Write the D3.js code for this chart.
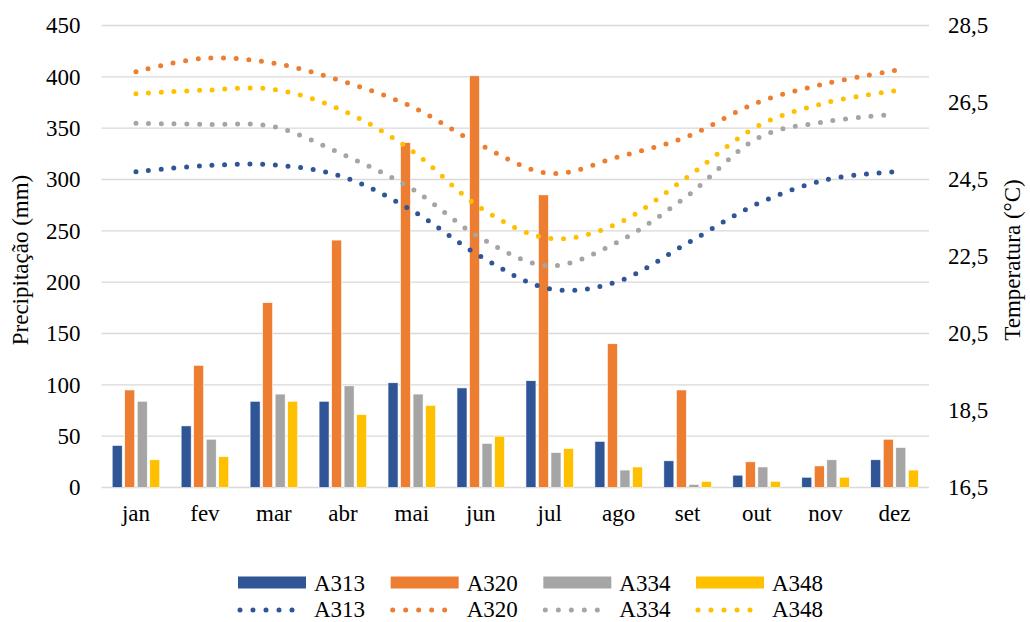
<!DOCTYPE html>
<html>
<head>
<meta charset="utf-8">
<script src="https://cdn.jsdelivr.net/npm/d3@7"></script>
<style>
  html, body { margin: 0; padding: 0; background: #fff; }
  svg { display: block; }
  text { font-family: "Liberation Serif", "Times New Roman", serif; fill: #000; }
</style>
</head>
<body>
<svg id="chart" width="1030" height="622"></svg>
<script>
// ---- data ----
const months = ["jan","fev","mar","abr","mai","jun","jul","ago","set","out","nov","dez"];
const stations = ["A313","A320","A334","A348"];
const colors = ["#2F5597","#ED7D31","#A5A5A5","#FFC000"];

const precipA313 = [41, 60, 84, 84, 102, 97, 104, 45, 26, 12, 10, 27];
const precipA320 = [95, 119, 180, 241, 336, 401, 285, 140, 95, 25, 21, 47];
const precipA334 = [84, 47, 91, 99, 91, 43, 34, 17, 3, 20, 27, 39];
const precipA348 = [27, 30, 84, 71, 80, 50, 38, 20, 6, 6, 10, 17];

const tempA313 = [24.70, 24.86, 24.88, 24.57, 23.70, 22.50, 21.66, 21.86, 22.85, 23.86, 24.49, 24.70];
const tempA320 = [27.30, 27.65, 27.52, 27.05, 26.39, 25.39, 24.66, 25.09, 25.62, 26.49, 26.99, 27.33];
const tempA334 = [25.96, 25.93, 25.87, 25.15, 24.26, 22.98, 22.26, 22.89, 24.08, 25.56, 26.00, 26.19];
const tempA348 = [26.73, 26.82, 26.84, 26.29, 25.25, 23.76, 22.97, 23.37, 24.57, 25.87, 26.49, 26.80];

const precipTicks = [0, 50, 100, 150, 200, 250, 300, 350, 400, 450];
const tempTicks = [16.5, 18.5, 20.5, 22.5, 24.5, 26.5, 28.5];

const precipSeries = [precipA313, precipA320, precipA334, precipA348];
const tempSeries = [tempA313, tempA320, tempA334, tempA348];

// ---- layout ----
const svg = d3.select("#chart");
const plotL = 101.5, plotR = 929, plotT = 25.5, plotB = 487.5;

const x0 = d3.scaleBand().domain(months).range([plotL, plotR]).paddingInner(0.31).paddingOuter(0.155);
const x1 = d3.scaleBand().domain(stations).range([0, x0.bandwidth()]).paddingInner(0.2);
const yL = d3.scaleLinear().domain([0, 450]).range([plotB, plotT]);
const yR = d3.scaleLinear().domain([16.5, 28.5]).range([plotB, plotT]);
const xc = m => x0(m) + x0.bandwidth() / 2;

// gridlines
svg.append("g").selectAll("line").data(precipTicks).join("line")
  .attr("x1", plotL).attr("x2", plotR)
  .attr("y1", d => yL(d)).attr("y2", d => yL(d))
  .attr("stroke", "#D9D9D9").attr("stroke-width", 1.3);

// left axis labels
const axL = svg.append("g").attr("transform", `translate(${plotL},0)`)
  .call(d3.axisLeft(yL).tickValues(precipTicks).tickSize(0).tickPadding(21));
axL.select(".domain").remove();
axL.selectAll("text").style("font-family", '"Liberation Serif", serif').style("font-size", "23px").attr("fill", "#000");

// right axis labels
const axR = svg.append("g").attr("transform", `translate(${plotR},0)`)
  .call(d3.axisRight(yR).tickValues(tempTicks).tickSize(0).tickPadding(19)
    .tickFormat(d => d3.format(".1f")(d).replace(".", ",")));
axR.select(".domain").remove();
axR.selectAll("text").style("font-family", '"Liberation Serif", serif').style("font-size", "23px").attr("fill", "#000");

// bottom axis labels
const axB = svg.append("g").attr("transform", `translate(0,${plotB})`)
  .call(d3.axisBottom(x0).tickSize(0).tickPadding(17));
axB.select(".domain").remove();
axB.selectAll("text").style("font-family", '"Liberation Serif", serif').style("font-size", "23px").attr("fill", "#000");

// bars
const barData = [];
months.forEach((m, i) => stations.forEach((s, j) => barData.push({ m, s, j, v: precipSeries[j][i] })));
svg.append("g").selectAll("rect").data(barData).join("rect")
  .attr("x", d => x0(d.m) + x1(d.s))
  .attr("width", x1.bandwidth())
  .attr("y", d => yL(d.v))
  .attr("height", d => yL(0) - yL(d.v))
  .attr("fill", d => colors[d.j])
  .attr("stroke", "#fff").attr("stroke-width", 0.6);

// temperature lines
const line = d3.line().x((d, i) => xc(months[i])).y(d => yR(d)).curve(d3.curveCardinal.tension(0));
svg.append("g").selectAll("path").data(tempSeries).join("path")
  .attr("d", d => line(d))
  .attr("fill", "none")
  .attr("stroke", (d, j) => colors[j])
  .attr("stroke-width", 5)
  .attr("stroke-linecap", "round")
  .attr("stroke-dasharray", "0 12.7");

// axis titles
svg.append("text").attr("transform", "translate(28,260) rotate(-90)")
  .attr("text-anchor", "middle").style("font-size", "23px").text("Precipitação (mm)");
svg.append("text").attr("transform", "translate(1020,260) rotate(-90)")
  .attr("text-anchor", "middle").style("font-size", "23px").text("Temperatura (°C)");

// legend
const legX = d3.scalePoint().domain(stations).range([238, 696]);
const lg = svg.append("g");
stations.forEach((s, j) => {
  const x = legX(s);
  lg.append("rect").attr("x", x).attr("y", 576.5).attr("width", 68).attr("height", 12).attr("fill", colors[j]);
  lg.append("text").attr("x", x + 76).attr("y", 590.5).style("font-size", "23px").text(s);
  lg.append("line").attr("x1", x + 2).attr("x2", x + 67).attr("y1", 610).attr("y2", 610)
    .attr("stroke", colors[j]).attr("stroke-width", 5).attr("stroke-linecap", "round")
    .attr("stroke-dasharray", "0 13");
  lg.append("text").attr("x", x + 76).attr("y", 616.5).style("font-size", "23px").text(s);
});
</script>
</body>
</html>
